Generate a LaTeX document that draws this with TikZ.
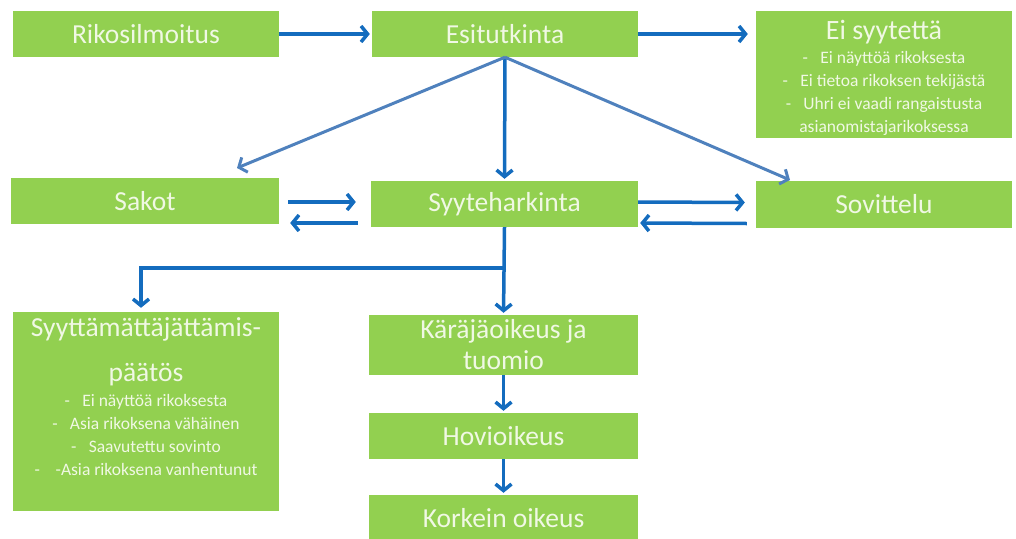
\documentclass[tikz,border=0pt]{standalone}
\usepackage{fontspec}
\setmainfont{Carlito}
\usetikzlibrary{arrows.meta, positioning}
\usetikzlibrary{calc}
\definecolor{boxgreen}{RGB}{146,208,80}
\definecolor{boxtext}{RGB}{240,248,228}
\definecolor{arrowblue}{RGB}{20,108,190}
\definecolor{slantblue}{RGB}{79,129,189}

\begin{document}
\begin{tikzpicture}[x=1pt, y=-1pt,
		box/.style = {fill=boxgreen, text=boxtext, inner sep=0pt, align=center,
			minimum width=266pt, minimum height=46pt,
			font=\fontsize{27.5}{31}\selectfont},
		note/.style = {text=boxtext, align=center, inner sep=0pt,
			font=\fontsize{17.5}{23}\selectfont},
		headline/.style = {note, font=\fontsize{27.5}{45}\selectfont},
		flow/.style = {color=arrowblue, line width=3.5pt,
			-{Straight Barb[length=6.5pt,width=16pt]}},
		slant/.style = {flow, color=slantblue, line width=3pt}
		]
		\useasboundingbox (0,0) rectangle (1016,538);
		\clip (0,0) rectangle (1016,538);
		% top row
		\node (riko) [box] at (146,34) {Rikosilmoitus};
		\node (esi) [box] at (505,34) {Esitutkinta};
		\node (eisyy) [box, minimum width=256pt, minimum height=127pt] at (884,74.5) {};
		\node (eisyyt) [headline, font=\fontsize{28}{34}\selectfont, anchor=north] at ($(eisyy.north)+(0,9)$) {Ei syytettä};
		\node (eisyyl) [note, anchor=north] at ($(eisyyt.south)+(0,7)$)
			{-\hspace{0.7em}Ei näyttöä rikoksesta\\
			-\hspace{0.7em}Ei tietoa rikoksen tekijästä\\
			-\hspace{0.7em}Uhri ei vaadi rangaistusta\\
			asianomistajarikoksessa};
		% middle row
		\node (sakot) [box, minimum width=268pt] at (145,201) {Sakot};
		\node (syyte) [box, minimum width=267pt] at (504.5,204) {Syyteharkinta};
		\node (sovi) [box, minimum width=256pt, minimum height=47pt] at (884,204.5) {Sovittelu};
		% bottom part
		\node (sjp) [box, minimum height=199pt] at (146,411.5) {};
		\node (sjpt) [headline, anchor=north] at ($(sjp.north)+(0,6)$)
			{Syyttämättäjättämis-\\päätös};
		\node (sjpl) [note, anchor=north] at ($(sjpt.south)+(0,8)$)
			{-\hspace{0.7em}Ei näyttöä rikoksesta\\
			-\hspace{0.7em}Asia rikoksena vähäinen\\
			-\hspace{0.7em}Saavutettu sovinto\\
			-\hspace{0.9em}-Asia rikoksena vanhentunut};
		\node (kara) [box, minimum width=269pt, minimum height=60pt] at (503.5,345) {Käräjäoikeus ja\\tuomio};
		\node (hovi) [box, minimum width=269pt] at (503.5,436) {Hovioikeus};
		\node (kork) [box, minimum width=269pt] at (503.5,518) {Korkein oikeus};
		% free ends of the slanted arrows
		\coordinate (sakotin) at (237,168);
		\coordinate (soviin) at (790,180);
		\coordinate (haara) at (506,268);

		\path [flow, shorten >=2pt]
		(riko) edge (esi)
		(esi.east) edge [shorten >=8pt] (esi -| eisyy.west)
		(esi.south) edge (syyte.north)
		($(sakot.east)+(9,1)$) edge ($(syyte.west)+(-13,-2)$)
		($(syyte.west)+(-13,19)$) edge ($(sakot.east)+(9,22)$)
		($(syyte.east)+(0,-2)$) edge ($(sovi.west)+(-9,-2)$)
		($(sovi.west)+(-9,19)$) edge ($(syyte.east)+(0,19)$)
		(syyte.south) edge (kara.north)
		(kara) edge (hovi)
		(hovi) edge (kork);
		\draw [flow, shorten >=4pt] (haara) -| ([xshift=-5pt]sjp.north);
		\path [slant]
		(esi.south) edge (sakotin)
		(esi.south) edge (soviin);
	\end{tikzpicture}
\end{document}
